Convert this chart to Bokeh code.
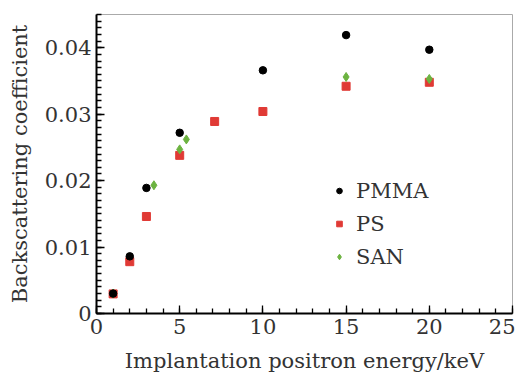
from bokeh.plotting import figure
from bokeh.models import FixedTicker, Legend, LegendItem, Range1d
from bokeh.embed import file_html
from bokeh.resources import INLINE

pmma_x = [1, 2, 3, 5, 10, 15, 20]
pmma_y = [0.0030, 0.0086, 0.0189, 0.0272, 0.0366, 0.0419, 0.0397]
ps_x = [1, 2, 3, 5, 7.1, 10, 15, 20]
ps_y = [0.00295, 0.0078, 0.0146, 0.0238, 0.0289, 0.0304, 0.0342, 0.0348]
san_x = [1, 3.45, 5, 5.4, 15, 20]
san_y = [0.0030, 0.0193, 0.0247, 0.0262, 0.0356, 0.0353]

x_ticks = [0, 5, 10, 15, 20, 25]
y_ticks = [0, 0.01, 0.02, 0.03, 0.04]
y_labels = {0: "0", 0.01: "0.01", 0.02: "0.02", 0.03: "0.03", 0.04: "0.04"}

FONT = "DejaVu Serif"
FS = "21px"
TXT = "#333333"

p = figure(frame_width=416, frame_height=299, output_backend="svg", toolbar_location=None,
           x_range=Range1d(0, 25), y_range=Range1d(0, 0.045),
           min_border_left=96, min_border_right=3, min_border_top=14, min_border_bottom=0)
p.grid.visible = False
p.outline_line_color = "#aaaaaa"
p.outline_line_width = 1
p.background_fill_color = "white"
p.border_fill_color = "white"

p.xaxis.ticker = FixedTicker(ticks=x_ticks, minor_ticks=list(range(0, 26)))
p.yaxis.ticker = FixedTicker(ticks=y_ticks, minor_ticks=[i / 1000 for i in range(0, 46)])
p.yaxis.major_label_overrides = y_labels

for ax in (p.xaxis[0], p.yaxis[0]):
    ax.axis_line_width = 2
    ax.axis_line_color = "black"
    ax.major_tick_in = 8
    ax.major_tick_out = 0
    ax.minor_tick_in = 5
    ax.minor_tick_out = 0
    ax.major_tick_line_width = 1.3
    ax.minor_tick_line_width = 1.3
    ax.major_tick_line_color = "black"
    ax.minor_tick_line_color = "black"
    ax.major_label_text_font = FONT
    ax.major_label_text_font_size = FS
    ax.major_label_text_color = TXT
    ax.axis_label_text_font = FONT
    ax.axis_label_text_font_size = FS
    ax.axis_label_text_font_style = "normal"
    ax.axis_label_text_color = TXT

p.xaxis.axis_label = "Implantation positron energy/keV"
p.yaxis.axis_label = "Backscattering coefficient"
p.xaxis.major_label_standoff = 5
p.yaxis.major_label_standoff = 5
p.xaxis.axis_label_standoff = 12
p.yaxis.axis_label_standoff = 10

r_ps = p.scatter(ps_x, ps_y, marker="square", size=8, color="#e03a35")
r_san = p.scatter(san_x, san_y, marker="diamond", size=9, color="#6cb340")
r_pmma = p.scatter(pmma_x, pmma_y, marker="circle", size=7.5, color="black")

legend = Legend(items=[LegendItem(label="PMMA", renderers=[r_pmma]),
                       LegendItem(label="PS", renderers=[r_ps]),
                       LegendItem(label="SAN", renderers=[r_san])],
                location=(236, 44), padding=0, margin=0, spacing=8,
                glyph_width=14, glyph_height=25, label_height=25, label_standoff=10,
                label_text_font=FONT, label_text_font_size=FS,
                label_text_color=TXT,
                border_line_color=None, background_fill_alpha=0)
p.add_layout(legend, "center")

open("out.html", "w").write(file_html(p, INLINE))
